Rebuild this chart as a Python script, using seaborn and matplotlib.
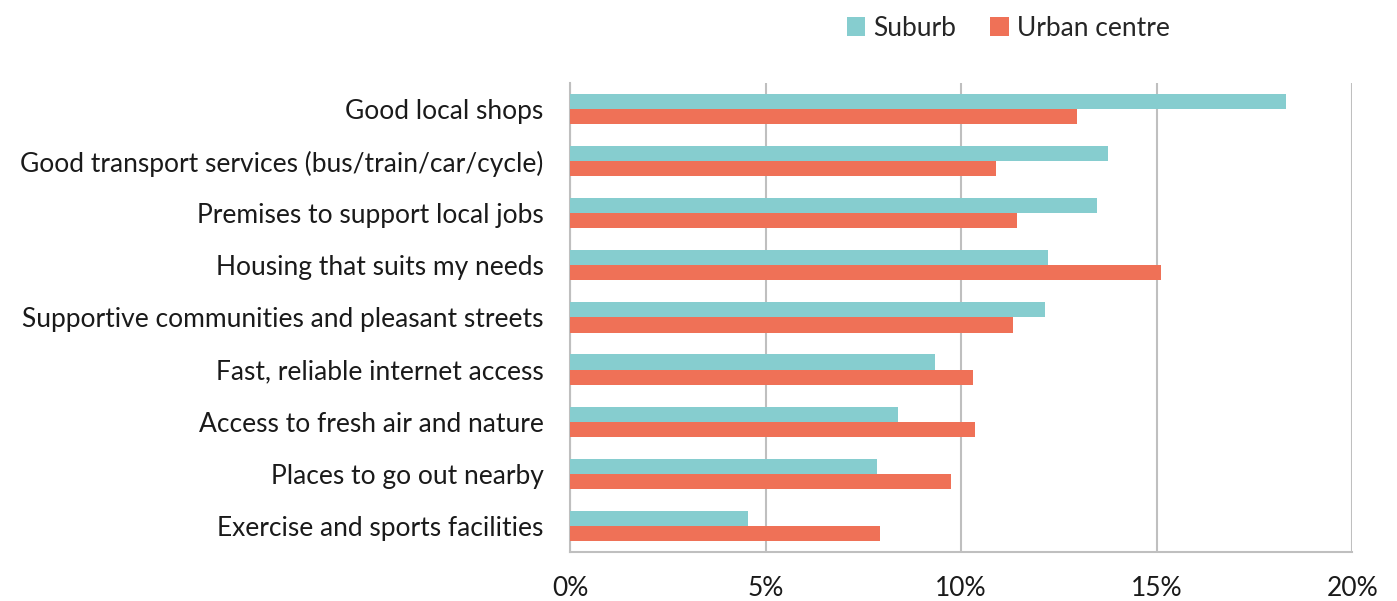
import numpy as np
import pandas as pd
import matplotlib
matplotlib.use("Agg")
import matplotlib.pyplot as plt
import seaborn as sns
import matplotlib.ticker as ticker

categories = [
    "Good local shops",
    "Good transport services (bus/train/car/cycle)",
    "Premises to support local jobs",
    "Housing that suits my needs",
    "Supportive communities and pleasant streets",
    "Fast, reliable internet access",
    "Access to fresh air and nature",
    "Places to go out nearby",
    "Exercise and sports facilities",
]
suburb = [18.3, 13.75, 13.47, 12.22, 12.15, 9.34, 8.39, 7.86, 4.55]
urban_centre = [12.96, 10.9, 11.43, 15.12, 11.32, 10.3, 10.36, 9.74, 7.93]
series = ["Suburb", "Urban centre"]
colors = ["#86CDCF", "#EF7157"]

data = pd.DataFrame({
    "category": categories * 2,
    "value": suburb + urban_centre,
    "area": ["Suburb"] * len(categories) + ["Urban centre"] * len(categories),
})

sns.set_theme(style="white")
plt.rcParams['font.family'] = ['Lato', 'DejaVu Sans']

fig = plt.figure(figsize=(13.97, 6.01), dpi=100)
ax = fig.add_axes([0.408, 0.0815, 0.56, 0.7805])

g = sns.barplot(
    data=data, x="value", y="category", hue="area", hue_order=series,
    palette=colors, order=categories, orient="h", width=0.58, ax=ax,
    saturation=1, edgecolor="none", zorder=3,
)

ax.set_xlim(0, 20)
ax.set_ylim(8.5, -0.5)
ax.xaxis.set_major_locator(ticker.MultipleLocator(5))
ax.xaxis.set_major_formatter(ticker.FuncFormatter(lambda v, p: f"{v:.0f}%"))
ax.grid(axis="x", color="#BFBFBF", linewidth=1.5, zorder=0)
ax.set_xlabel("")
ax.set_ylabel("")
for s in ["top", "right"]:
    ax.spines[s].set_visible(False)
for s in ["left", "bottom"]:
    ax.spines[s].set_color("#BFBFBF")
    ax.spines[s].set_linewidth(1.5)
ax.tick_params(axis="x", length=0, pad=17, labelsize=19, labelcolor="#1a1a1a")
ax.tick_params(axis="y", length=0, pad=19, labelsize=19, labelcolor="#1a1a1a")

leg = ax.legend(
    loc="center", bbox_to_anchor=(0.56, 1.117), ncol=2, frameon=False,
    fontsize=19, handlelength=0.7, handleheight=0.7, handletextpad=0.3,
    columnspacing=1.3,
)

plt.savefig("out.png", dpi=100)
